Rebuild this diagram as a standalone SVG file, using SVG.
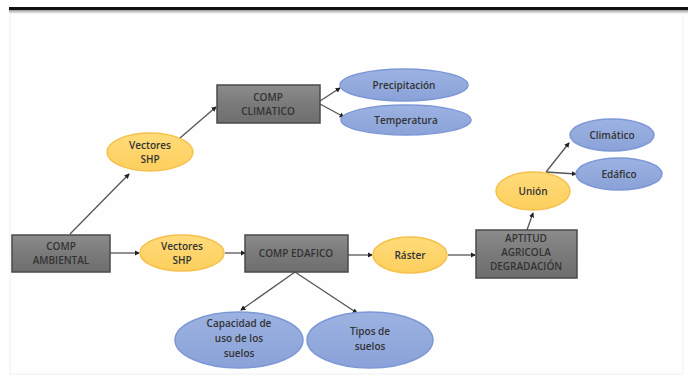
<svg xmlns="http://www.w3.org/2000/svg" width="688" height="376" viewBox="0 0 688 376">
<defs>
<linearGradient id="gr" x1="0" y1="0" x2="0" y2="1">
<stop offset="0" stop-color="#8c8c8c"/><stop offset="0.5" stop-color="#7a7a7a"/><stop offset="1" stop-color="#6e6e6e"/>
</linearGradient>
<linearGradient id="go" x1="0" y1="0" x2="0" y2="1">
<stop offset="0" stop-color="#ffdb7a"/><stop offset="1" stop-color="#fccf5e"/>
</linearGradient>
<linearGradient id="gb" x1="0" y1="0" x2="0" y2="1">
<stop offset="0" stop-color="#9cb2e2"/><stop offset="1" stop-color="#8aa2d8"/>
</linearGradient>
<linearGradient id="sh" x1="0" y1="0" x2="0" y2="1">
<stop offset="0" stop-color="#9a9a9a"/><stop offset="1" stop-color="#ffffff"/>
</linearGradient>
<marker id="ar" viewBox="0 0 6 6" refX="5" refY="3" markerWidth="4" markerHeight="4" orient="auto">
<path d="M0,0 L6,3 L0,6 z" fill="#222"/>
</marker>
<style>
.rect{fill:url(#gr);stroke:#4a4a4a;stroke-width:1.5}
.or{fill:url(#go);stroke:#f6c04a;stroke-width:1.5}
.bl{fill:url(#gb);stroke:#7d98d6;stroke-width:1.5}
text{font-family:"Open Sans","Liberation Sans",Arial,sans-serif;font-size:10px;font-weight:600;text-anchor:middle;fill:#333}
.c line{stroke:#555;stroke-width:1.3;marker-end:url(#ar)}
</style>
</defs>
<rect width="688" height="376" fill="#fff"/>
<rect x="10" y="10" width="673" height="364" fill="#fefefe" stroke="#f0f0f0" stroke-width="1"/>
<rect x="9" y="10" width="679" height="4" fill="url(#sh)"/>
<rect x="9" y="7" width="679" height="3" fill="#111"/>

<g class="c" id="connectors">
<line x1="70" y1="234" x2="129" y2="174"/>
<line x1="180" y1="138" x2="216" y2="107"/>
<line x1="320" y1="101" x2="340" y2="88"/>
<line x1="320" y1="104" x2="344" y2="117"/>
<line x1="110" y1="253" x2="139" y2="253"/>
<line x1="225" y1="253" x2="245" y2="253"/>
<line x1="348" y1="255" x2="372" y2="255"/>
<line x1="448" y1="255" x2="475" y2="255"/>
<line x1="527" y1="230" x2="533" y2="213"/>
<line x1="546" y1="172" x2="569" y2="143"/>
<line x1="546" y1="172" x2="576" y2="174"/>
<line x1="295" y1="272" x2="241" y2="310"/>
<line x1="295" y1="272" x2="357" y2="313"/>
</g>

<g id="comp-ambiental"><rect class="rect" x="12" y="235" width="98" height="37"/><text x="61" y="250">COMP</text><text x="61" y="264">AMBIENTAL</text></g>
<g id="vectores-1"><ellipse class="or" cx="150" cy="152" rx="43" ry="19"/><text x="150" y="149">Vectores</text><text x="150" y="163">SHP</text></g>
<g id="comp-climatico"><rect class="rect" x="217" y="85" width="103" height="38"/><text x="268" y="101">COMP</text><text x="268" y="115">CLIMATICO</text></g>
<g id="precipitacion"><ellipse class="bl" cx="404" cy="85" rx="64" ry="16"/><text x="404" y="89">Precipitación</text></g>
<g id="temperatura"><ellipse class="bl" cx="406" cy="120" rx="65" ry="15"/><text x="406" y="124">Temperatura</text></g>
<g id="vectores-2"><ellipse class="or" cx="182" cy="253" rx="42" ry="18"/><text x="182" y="250">Vectores</text><text x="182" y="264">SHP</text></g>
<g id="comp-edafico"><rect class="rect" x="245" y="235" width="103" height="37"/><text x="296" y="257">COMP EDAFICO</text></g>
<g id="raster"><ellipse class="or" cx="410" cy="255" rx="37" ry="18"/><text x="410" y="259">Ráster</text></g>
<g id="aptitud"><rect class="rect" x="476" y="230" width="101" height="48"/><text x="526" y="242">APTITUD</text><text x="526" y="256">AGRICOLA</text><text x="526" y="270">DEGRADACIÓN</text></g>
<g id="union"><ellipse class="or" cx="533" cy="191" rx="37" ry="19"/><text x="533" y="195">Unión</text></g>
<g id="climatico"><ellipse class="bl" cx="612" cy="135" rx="42" ry="16"/><text x="612" y="139">Climático</text></g>
<g id="edafico"><ellipse class="bl" cx="619" cy="174" rx="43" ry="16"/><text x="619" y="178">Edáfico</text></g>
<g id="capacidad"><ellipse class="bl" cx="239" cy="340" rx="64" ry="28"/><text x="239" y="327">Capacidad de</text><text x="239" y="342">uso de los</text><text x="239" y="357">suelos</text></g>
<g id="tipos"><ellipse class="bl" cx="370" cy="340" rx="63" ry="28"/><text x="370" y="335">Tipos de</text><text x="370" y="350">suelos</text></g>
</svg>
